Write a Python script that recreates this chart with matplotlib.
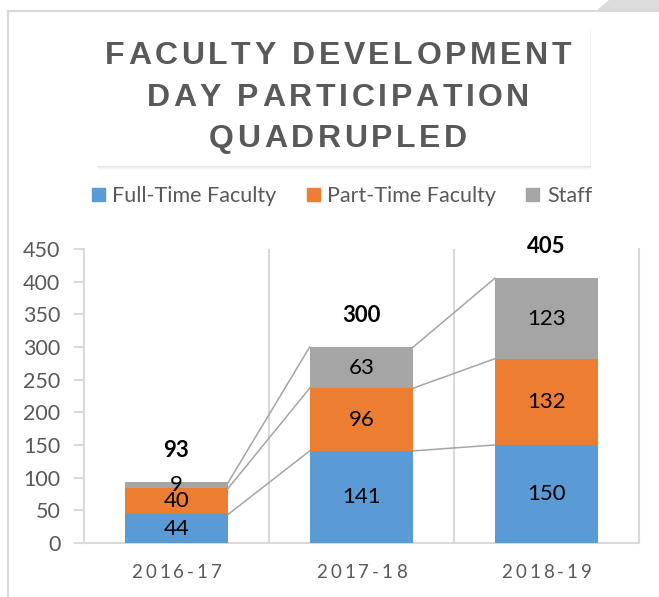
import matplotlib
matplotlib.use("Agg")
import matplotlib.pyplot as plt
from matplotlib.patches import Rectangle, Polygon, Patch
from matplotlib.lines import Line2D
from matplotlib.font_manager import FontProperties, findfont
from matplotlib.ft2font import FT2Font
import numpy as np

# data
years = ["2016-17", "2017-18", "2018-19"]
full_time = [44, 141, 150]
part_time = [40, 96, 132]
staff = [9, 63, 123]
series_names = ["Full-Time Faculty", "Part-Time Faculty", "Staff"]
colors = ["#5b9bd5", "#ed7d31", "#a5a5a5"]
title_lines = ["FACULTY DEVELOPMENT", "DAY PARTICIPATION", "QUADRUPLED"]

W, H = 659, 597
TXT = "#595959"
GRID = "#d9d9d9"
BODY = "Lato"

fig = plt.figure(figsize=(W / 100, H / 100), dpi=100)


def fx(x):
    return x / W


def fy(y):
    return 1 - y / H


def spaced(x, y, s, size, spacing, family, weight="normal", color=TXT):
    # draw text one char at a time so we get letter spacing; x is centre, y is baseline (px from top)
    fp = FontProperties(family=family, weight=weight, size=size)
    font = FT2Font(findfont(fp))
    font.set_size(size, 100)
    adv = [font.load_char(ord(c)).linearHoriAdvance / 65536 for c in s]
    total = sum(adv) + spacing * (len(s) - 1)
    cur = x - total / 2
    for c, a in zip(s, adv):
        if c != " ":
            fig.text(fx(cur + a / 2), fy(y), c, fontproperties=fp, color=color,
                     ha="center", va="baseline")
        cur += a + spacing


# page frame
fig.add_artist(Line2D([fx(8), fx(8)], [fy(10.5), 0], color=GRID, lw=1.5))
fig.add_artist(Line2D([fx(8), 1], [fy(10.5), fy(10.5)], color=GRID, lw=1.5))
fig.add_artist(Polygon([(fx(597), fy(10)), (fx(609), 1), (1, 1), (1, fy(10))],
                       closed=True, facecolor="#dcdcdc", edgecolor="none"))

# title box with soft shadow
for k, a in [(4, 0.015), (3, 0.02), (2, 0.03), (1, 0.04)]:
    fig.add_artist(Rectangle((fx(97 + k * 0.3), fy(166 + k)), fx(493), 138 / H,
                             facecolor="black", alpha=a, edgecolor="none"))
fig.add_artist(Rectangle((fx(97), fy(166)), fx(493), 138 / H,
                         facecolor="white", edgecolor="none"))
for line, base in zip(title_lines, [64, 106, 147]):
    spaced(338, base, line, 23, 3.6, "Liberation Sans", weight="bold")

# chart
ax = fig.add_axes([fx(84), 1 - 543 / H, (639 - 84) / W, (543 - 249) / H])
x = np.arange(len(years))
width = 0.56
bottom = np.zeros(len(years))
tops = []
for vals, color, name in zip([full_time, part_time, staff], colors, series_names):
    vals = np.array(vals)
    ax.bar(x, vals, width, bottom=bottom, color=color, zorder=3, label=name)
    for i, v in enumerate(vals):
        ax.text(i, bottom[i] + v / 2, str(v), ha="center", va="center",
                fontsize=16, family=BODY, color="black", zorder=5)
    bottom = bottom + vals
    tops.append(bottom.copy())

# series lines between bars
for level in tops:
    for i in range(len(years) - 1):
        ax.plot([i + width / 2, i + 1 - width / 2], [level[i], level[i + 1]],
                color="#a5a5a5", lw=1.1, zorder=2)

# totals
for i, t in enumerate(bottom):
    ax.annotate(str(int(t)), (i, t), xytext=(0, 23), textcoords="offset points",
                ha="center", va="center", fontsize=16, family=BODY,
                weight="bold", color="black")

ax.set_xlim(-0.5, len(years) - 0.5)
ax.set_ylim(0, 450)
ax.set_yticks(range(0, 451, 50))
ax.tick_params(axis="y", length=7, width=1.5, color=GRID, labelsize=15.5,
               labelcolor=TXT, pad=10)
for lab in ax.get_yticklabels():
    lab.set_family(BODY)
ax.set_xticks(x)
ax.set_xticklabels([])
ax.set_xticks([0.5, 1.5], minor=True)
ax.tick_params(axis="x", which="both", length=0)
ax.grid(axis="x", which="minor", color=GRID, lw=1.5, zorder=0)
ax.spines["top"].set_visible(False)
for s in ["left", "right", "bottom"]:
    ax.spines[s].set_color(GRID)
    ax.spines[s].set_linewidth(1.5)

# letter-spaced category labels
for i, yr in enumerate(years):
    px, _ = ax.transData.transform((i, 0))
    spaced(px, 578, yr, 13.5, 3.0, BODY)

fig.legend(handles=[Patch(color=c, label=n) for c, n in zip(colors, series_names)],
           loc="center", bbox_to_anchor=(fx(342), fy(196)), ncol=3, frameon=False,
           prop=FontProperties(family=BODY, size=15.5), labelcolor=TXT,
           handlelength=0.6, handleheight=0.6, handletextpad=0.35, columnspacing=1.4)

fig.savefig("out.png", dpi=100)
